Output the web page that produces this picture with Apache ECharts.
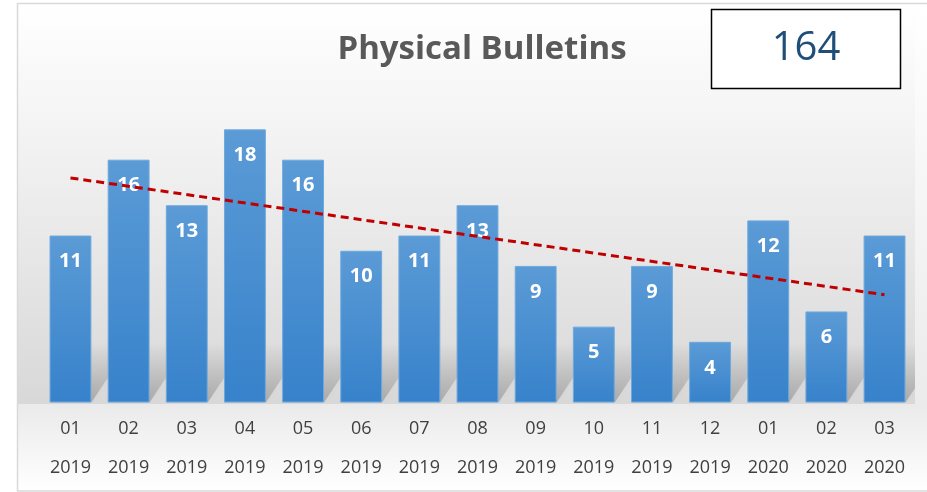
<!DOCTYPE html>
<html>
<head>
<meta charset="utf-8">
<script src="https://cdn.jsdelivr.net/npm/echarts@6/dist/echarts.min.js"></script>
<style>
  html, body { margin: 0; padding: 0; background: #fff; }
  #chart { width: 927px; height: 492px; }
</style>
</head>
<body>
<div id="chart"></div>
<script>
// data
const months = ['01', '02', '03', '04', '05', '06', '07', '08', '09', '10', '11', '12', '01', '02', '03']
const years = ['2019', '2019', '2019', '2019', '2019', '2019', '2019', '2019', '2019', '2019', '2019', '2019', '2020', '2020', '2020']
const bulletins = [11, 16, 13, 18, 16, 10, 11, 13, 9, 5, 9, 4, 12, 6, 11]
// dashed trend line, only its two ends are read
const trendStart = 14.8
const trendEnd = 7.1

const categories = months.map((m, i) => m + '\n' + years[i])
const total = bulletins.reduce((a, b) => a + b, 0)

const trend = bulletins.map(() => null)
trend[0] = trendStart
trend[trend.length - 1] = trendEnd

const font = '"Open Sans", "Noto Sans", sans-serif'

const chart = echarts.init(document.getElementById('chart'))

const option = {
  animation: false,
  textStyle: { fontFamily: font },
  title: {
    text: 'Physical Bulletins',
    left: 477,
    top: 28,
    textAlign: 'center',
    textStyle: { fontSize: 33, fontWeight: 'bold', color: '#595959', fontFamily: font }
  },
  graphic: [
    // plot background, white on top to gray at the floor
    {
      type: 'rect', z: -10, silent: true,
      shape: { x: 18, y: 4, width: 897, height: 400 },
      style: {
        fill: new echarts.graphic.LinearGradient(0, 0, 0, 1, [
          { offset: 0, color: '#ffffff' },
          { offset: 0.3, color: '#f4f4f4' },
          { offset: 1, color: '#d8d8d8' }
        ])
      }
    },
    {
      type: 'rect', z: -10, silent: true,
      shape: { x: 915, y: 4, width: 12, height: 400 },
      style: {
        fill: new echarts.graphic.LinearGradient(0, 0, 0, 1, [
          { offset: 0, color: '#ffffff' },
          { offset: 1, color: '#ebebeb' }
        ])
      }
    },
    {
      type: 'rect', z: -10, silent: true,
      shape: { x: 18, y: 404, width: 909, height: 87 },
      style: {
        fill: new echarts.graphic.LinearGradient(0, 0, 0, 1, [
          { offset: 0, color: '#eaeaea' },
          { offset: 1, color: '#ffffff' }
        ])
      }
    },
    // outer frame
    {
      type: 'rect', z: 20, silent: true,
      shape: { x: 17.5, y: 3.5, width: 920, height: 487.5 },
      style: { fill: null, stroke: '#d9d9d9', lineWidth: 1.5 }
    },
    // total box
    {
      type: 'rect', z: 20, silent: true,
      shape: { x: 711.5, y: 9.5, width: 189, height: 79 },
      style: { fill: '#ffffff', stroke: '#000000', lineWidth: 1.5 }
    },
    {
      type: 'text', z: 21, silent: true,
      x: 806, y: 49,
      style: {
        text: String(total),
        fontSize: 40,
        fontFamily: font,
        fill: '#1f4e79',
        align: 'center',
        verticalAlign: 'middle'
      }
    }
  ],
  grid: { left: 41.4, right: 13.4, top: 99, bottom: 89.5 },
  xAxis: {
    type: 'category',
    data: categories,
    axisLine: { show: false },
    axisTick: { show: false },
    axisLabel: {
      interval: 0,
      margin: 7,
      lineHeight: 39,
      fontSize: 18,
      color: '#404040',
      fontFamily: font
    }
  },
  yAxis: {
    type: 'value',
    min: 0,
    max: 20,
    show: false,
    splitLine: { show: false }
  },
  series: [
    {
      // soft floor shadow behind each bar
      type: 'custom',
      z: 1,
      clip: true,
      silent: true,
      data: bulletins,
      renderItem: function (params, api) {
        const base = api.coord([api.value(0), 0])
        const band = api.size([1, 0])[0]
        const w = band * 0.72
        const x0 = base[0] - w / 2
        const x1 = base[0] + w / 2
        const y = base[1]
        const dx = 40, h = 60
        return {
          type: 'polygon',
          shape: { points: [[x0, y], [x1, y], [x1 + dx, y - h], [x0 + dx, y - h]] },
          style: {
            fill: new echarts.graphic.LinearGradient(0, 1, 0, 0, [
              { offset: 0, color: 'rgba(0,0,0,0.2)' },
              { offset: 1, color: 'rgba(0,0,0,0)' }
            ]),
            shadowBlur: 6,
            shadowColor: 'rgba(0,0,0,0.15)'
          }
        }
      }
    },
    {
      name: 'Bulletins',
      type: 'bar',
      z: 2,
      data: bulletins,
      barCategoryGap: '28%',
      itemStyle: {
        color: new echarts.graphic.LinearGradient(0, 0, 0, 1, [
          { offset: 0, color: '#5b9bd6' },
          { offset: 1, color: '#3782cb' }
        ]),
        borderColor: '#6ea8de',
        borderWidth: 1
      },
      label: {
        show: true,
        position: 'insideTop',
        distance: 16,
        fontSize: 20,
        fontWeight: 'bold',
        color: '#ffffff',
        fontFamily: font
      }
    },
    {
      name: 'Trend',
      type: 'line',
      z: 5,
      data: trend,
      connectNulls: true,
      symbol: 'none',
      lineStyle: { color: '#c00000', width: 3, type: [8, 5] }
    }
  ]
}

chart.setOption(option)
</script>
</body>
</html>
